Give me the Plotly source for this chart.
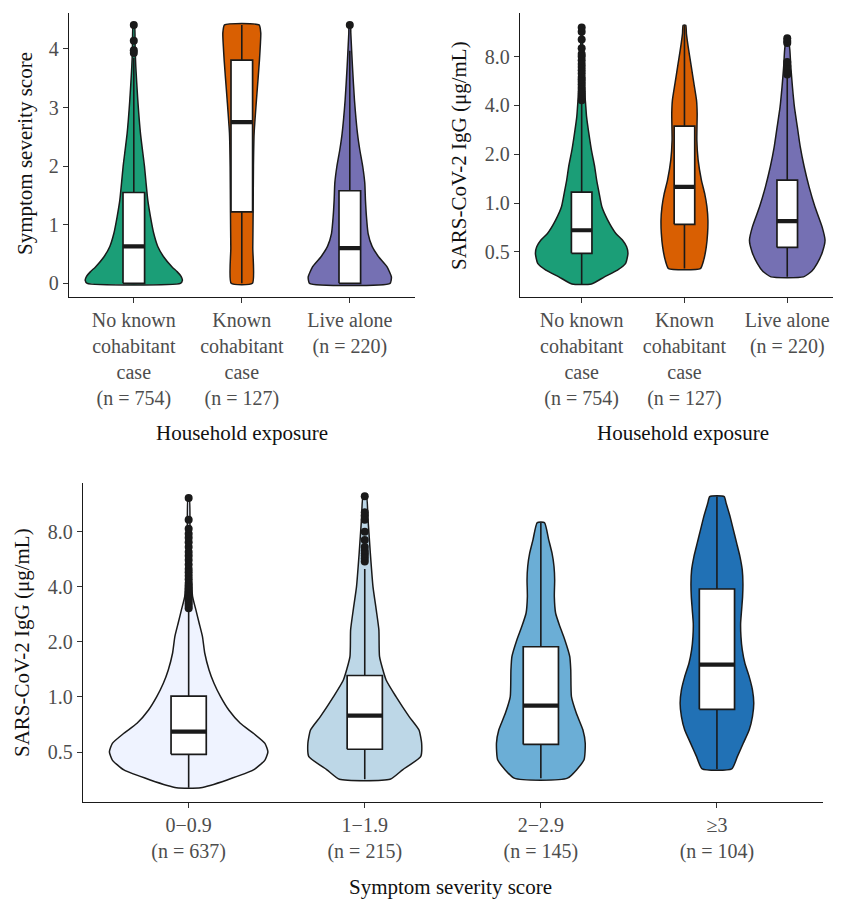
import plotly.graph_objects as go

# The page body has an 8px default margin; the figure is sized/offset for it.
PAGE_W, PAGE_H = 841, 899
OFF = 8
W, H = PAGE_W - OFF, PAGE_H - OFF
FONT = "Liberation Serif"
INK = "#1a1a1a"
TICK_TXT = "#4d4d4d"

# ------------------------------------------------------------------
# Panel A: symptom severity score by household exposure
# ------------------------------------------------------------------
household_labels = [
    "No known<br>cohabitant<br>case<br>(n = 754)",
    "Known<br>cohabitant<br>case<br>(n = 127)",
    "Live alone<br>(n = 220)",
]
household_colors = ["#1B9E77", "#D95F02", "#7570B3"]

# violin outlines: values and relative density
sev_nokn_y = [0, 0.05, 0.12, 0.2, 0.28, 0.45, 0.63, 0.85, 1.14, 1.42, 1.7, 2.0, 2.56, 3.13, 3.7, 4.0, 4.41]
sev_nokn_d = [140, 146, 142, 130, 115, 90, 72, 60, 50, 42, 37, 32, 20, 12, 6, 4, 2]
sev_known_y = [0, 0.6, 1.2, 2.0, 2.56, 3.13, 3.5, 3.81, 4.1, 4.27, 4.41]
sev_known_d = [32, 33, 34, 35, 37, 44, 49, 53, 56, 57, 52]
sev_alone_y = [0, 0.11, 0.28, 0.45, 0.63, 0.85, 1.14, 1.42, 1.71, 1.99, 2.28, 2.56, 3.13, 3.7, 4.27, 4.41]
sev_alone_d = [121, 125, 112, 87, 67, 55, 50, 47, 45, 39, 30, 23, 14, 8, 3, 2]

sev_q1 = [0.0, 1.22, 0.0]
sev_median = [0.63, 2.75, 0.60]
sev_q3 = [1.55, 3.81, 1.58]
sev_lower = [0.0, 0.0, 0.0]
sev_upper = [3.85, 4.41, 3.97]
sev_outliers = [[3.93, 3.98, 4.14, 4.41], [], [4.41]]

# ------------------------------------------------------------------
# Panel B: IgG by household exposure
# ------------------------------------------------------------------
igg_nokn_y = [0.317, 0.351, 0.386, 0.425, 0.489, 0.538, 0.592, 0.65, 0.786, 0.949, 1.169, 1.386,
              1.675, 2.12, 2.69, 3.41, 4.11, 5.47, 6.93, 8.77, 12.1]
igg_nokn_d = [30, 70, 110, 135, 142, 138, 125, 105, 80, 62, 53, 46, 40, 30, 22, 15, 12, 7, 5, 3, 1]
igg_known_y = [0.395, 0.445, 0.538, 0.65, 0.786, 0.949, 1.147, 1.386, 1.84, 2.445, 3.57, 4.31,
               5.47, 6.93, 8.77, 11.1, 12.5]
igg_known_d = [49, 59, 67, 71, 72, 69, 62, 52, 42, 38, 39, 37, 29, 21, 13, 6, 4]
igg_alone_y = [0.351, 0.38, 0.425, 0.5, 0.59, 0.714, 0.95, 1.26, 1.675, 2.22, 2.95, 3.92, 5.2, 6.93, 8.77, 10.4]
igg_alone_d = [50, 75, 92, 108, 116, 107, 85, 67, 52, 40, 31, 22, 16, 11, 8, 3]

igg_hh_q1 = [0.49, 0.74, 0.533]
igg_hh_median = [0.68, 1.26, 0.774]
igg_hh_q3 = [1.17, 2.98, 1.386]
igg_hh_lower = [0.317, 0.395, 0.351]
igg_hh_upper = [4.2, 12.5, 6.0]
igg_hh_outliers = [
    [4.3, 4.45, 4.6, 4.75, 4.9, 5.05, 5.2, 5.4, 5.6, 5.8, 6.0, 6.3, 6.6, 6.9, 7.2, 7.6, 8.0,
     8.3, 9.0, 10.2, 11.4, 12.1],
    [],
    [6.2, 6.5, 7.0, 7.4, 9.7, 10.0, 10.4],
]

# ------------------------------------------------------------------
# Panel C: IgG by symptom severity score
# ------------------------------------------------------------------
severity_labels = ["0\u22120.9<br>(n = 637)", "1\u22121.9<br>(n = 215)",
                   "2\u22122.9<br>(n = 145)", "\u22653<br>(n = 104)"]
severity_colors = ["#EFF3FF", "#BDD7E7", "#6BAED6", "#2171B5"]

igg_s0_y = [0.319, 0.352, 0.399, 0.452, 0.501, 0.558, 0.633, 0.718, 0.849, 1.004, 1.188, 1.405,
            1.733, 2.136, 2.527, 2.988, 3.534, 4.944, 7.52, 12.18]
igg_s0_d = [37, 117, 197, 232, 241, 232, 197, 157, 122, 97, 77, 62, 49, 42, 32, 22, 12, 7, 4, 2]
igg_s1_y = [0.355, 0.40, 0.472, 0.558, 0.660, 0.781, 1.004, 1.238, 1.661, 2.324, 2.988, 4.01, 6.10, 9.28, 12.5]
igg_s1_d = [77, 115, 170, 173, 165, 135, 95, 65, 45, 43, 35, 25, 17, 10, 5]
igg_s2_y = [0.36, 0.452, 0.558, 0.66, 0.814, 1.004, 1.405, 1.661, 2.049, 2.423, 2.866, 3.534,
            4.36, 5.16, 6.10, 7.21, 8.97]
igg_s2_d = [81, 131, 135, 128, 108, 93, 91, 88, 73, 58, 45, 41, 42, 40, 34, 24, 11]
igg_s3_y = [0.404, 0.472, 0.558, 0.66, 0.781, 0.923, 1.092, 1.291, 1.527, 1.806, 2.136, 2.527,
            2.988, 3.534, 4.18, 4.944, 5.85, 6.92, 8.18, 9.67, 11.44, 12.44]
igg_s3_d = [45, 62, 80, 98, 108, 112, 108, 98, 85, 77, 73, 72, 75, 78, 79, 77, 70, 60, 50, 40, 28, 22]

igg_sev_q1 = [0.486, 0.518, 0.55, 0.856]
igg_sev_median = [0.646, 0.79, 0.897, 1.5]
igg_sev_q3 = [1.01, 1.31, 1.88, 3.89]
igg_sev_lower = [0.319, 0.355, 0.36, 0.404]
igg_sev_upper = [3.0, 5.0, 8.97, 12.44]
igg_sev_outliers = [
    [3.05, 3.15, 3.25, 3.35, 3.45, 3.6, 3.75, 3.9, 4.05, 4.2, 4.4, 4.6, 4.8, 5.0, 5.3, 5.6,
     5.9, 6.2, 6.6, 7.0, 7.4, 7.8, 8.3, 9.3, 12.2],
    [5.5, 5.7, 5.9, 6.1, 6.3, 6.6, 7.2, 8.0, 9.3, 9.8, 10.2, 12.5],
    [],
    [],
]

# ------------------------------------------------------------------
VIOLIN_HALF = 0.45
BOX_HALF = 0.1


def add_panel(fig, xa, ya, vys, vds, colors, q1, med, q3, lo, hi, outs):
    dmax = max(max(d) for d in vds)
    positions = list(range(1, len(vys) + 1))
    kw = dict(xaxis=xa, yaxis=ya, hoverinfo="skip", showlegend=False)
    # violins
    for pos, ys, ds, col in zip(positions, vys, vds, colors):
        ws = [d / dmax * VIOLIN_HALF for d in ds]
        xs = [pos + w for w in ws] + [pos - w for w in reversed(ws)] + [pos + ws[0]]
        yy = list(ys) + list(reversed(ys)) + [ys[0]]
        fig.add_trace(go.Scatter(
            x=xs, y=yy, mode="lines", fill="toself", fillcolor=col,
            line=dict(color=INK, width=1.5, shape="spline", smoothing=0.5), **kw))
    # whiskers
    wx, wy = [], []
    for pos, a, b, c, d in zip(positions, lo, q1, q3, hi):
        wx += [pos, pos, None, pos, pos, None]
        wy += [a, b, None, c, d, None]
    fig.add_trace(go.Scatter(x=wx, y=wy, mode="lines",
                             line=dict(color=INK, width=1.6), **kw))
    # boxes
    for pos, b, c in zip(positions, q1, q3):
        fig.add_trace(go.Scatter(
            x=[pos - BOX_HALF, pos + BOX_HALF, pos + BOX_HALF, pos - BOX_HALF, pos - BOX_HALF],
            y=[b, b, c, c, b], mode="lines", fill="toself", fillcolor="white",
            line=dict(color=INK, width=1.7), **kw))
    # medians
    mx, my = [], []
    for pos, m in zip(positions, med):
        mx += [pos - BOX_HALF, pos + BOX_HALF, None]
        my += [m, m, None]
    fig.add_trace(go.Scatter(x=mx, y=my, mode="lines",
                             line=dict(color=INK, width=4.2), **kw))
    # outliers
    ox, oy = [], []
    for pos, o in zip(positions, outs):
        ox += [pos] * len(o)
        oy += list(o)
    if ox:
        fig.add_trace(go.Scatter(x=ox, y=oy, mode="markers",
                                 marker=dict(color=INK, size=8), **kw))


fig = go.Figure()
add_panel(fig, "x", "y",
          [sev_nokn_y, sev_known_y, sev_alone_y], [sev_nokn_d, sev_known_d, sev_alone_d],
          household_colors, sev_q1, sev_median, sev_q3, sev_lower, sev_upper, sev_outliers)
add_panel(fig, "x2", "y2",
          [igg_nokn_y, igg_known_y, igg_alone_y], [igg_nokn_d, igg_known_d, igg_alone_d],
          household_colors, igg_hh_q1, igg_hh_median, igg_hh_q3, igg_hh_lower, igg_hh_upper,
          igg_hh_outliers)
add_panel(fig, "x3", "y3",
          [igg_s0_y, igg_s1_y, igg_s2_y, igg_s3_y], [igg_s0_d, igg_s1_d, igg_s2_d, igg_s3_d],
          severity_colors, igg_sev_q1, igg_sev_median, igg_sev_q3, igg_sev_lower, igg_sev_upper,
          igg_sev_outliers)


def fx(px):
    return (px - OFF) / W


def fy(py):
    return 1 - (py - OFF) / H


common = dict(showline=True, linecolor=INK, linewidth=1.4, ticks="outside", ticklen=5,
              tickcolor="#333333", tickwidth=1.2, showgrid=False, zeroline=False,
              automargin=False, fixedrange=True)
xfont = dict(family=FONT, size=20, color=TICK_TXT)
yfont = dict(family=FONT, size=20, color=TICK_TXT)

igg_ticks = [0.5, 1, 2, 4, 8]
igg_ticktext = ["0.5", "1.0", "2.0", "4.0", "8.0"]
sev_ticks = [0, 1, 2, 3, 4]

fig.update_layout(
    width=W, height=H, margin=dict(l=0, r=0, t=0, b=0),
    template="none", paper_bgcolor="white", plot_bgcolor="white",
    showlegend=False,
    xaxis=dict(domain=[fx(69), fx(414.6)], range=[0.4, 3.6], tickvals=[1, 2, 3],
               ticktext=household_labels, tickfont=xfont, anchor="y", **common),
    yaxis=dict(domain=[fy(296.7), fy(13)], range=[-0.228, 4.614], tickvals=sev_ticks,
               tickfont=yfont, anchor="x", **common),
    xaxis2=dict(domain=[fx(520), 1.0], range=[0.4, 3.523], tickvals=[1, 2, 3],
                ticktext=household_labels, tickfont=xfont, anchor="y2", **common),
    yaxis2=dict(domain=[fy(296.7), fy(13)], type="log", range=[-0.577, 1.172],
                tickvals=igg_ticks, ticktext=igg_ticktext, tickfont=yfont, anchor="x2", **common),
    xaxis3=dict(domain=[fx(83), fx(822.6)], range=[0.4, 4.6], tickvals=[1, 2, 3, 4],
                ticktext=severity_labels, tickfont=xfont, anchor="y3", **common),
    yaxis3=dict(domain=[fy(802), fy(483)], type="log", range=[-0.574, 1.169],
                tickvals=igg_ticks, ticktext=igg_ticktext, tickfont=yfont, anchor="x3", **common),
)

title_font = dict(family=FONT, size=21, color="#111111")
titles = [
    ("Symptom severity score", 25, 154, -90),
    ("SARS-CoV-2 IgG (\u03bcg/mL)", 459, 155, -90),
    ("SARS-CoV-2 IgG (\u03bcg/mL)", 22, 643, -90),
    ("Household exposure", 242, 433, 0),
    ("Household exposure", 683, 433, 0),
    ("Symptom severity score", 451, 887, 0),
]
for text, px, py, ang in titles:
    fig.add_annotation(text=text, x=fx(px), y=fy(py), xref="paper", yref="paper",
                       xanchor="center", yanchor="middle", textangle=ang,
                       showarrow=False, font=title_font)

fig.write_html("out.html")
